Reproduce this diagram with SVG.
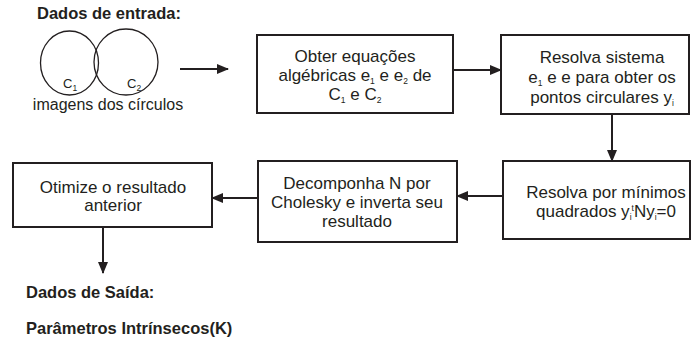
<svg xmlns="http://www.w3.org/2000/svg" width="691" height="345" viewBox="0 0 691 345">
<style>
text{font-family:"Liberation Sans",Arial,sans-serif;fill:#231f20}
.t{font-size:17px;text-anchor:middle}
.h{font-size:16.5px;font-weight:bold}
.s{font-size:8.5px}
.box{fill:#fff;stroke:#231f20;stroke-width:2}
.c{fill:none;stroke:#231f20;stroke-width:1.3}
.ln{stroke:#231f20;stroke-width:2;fill:none}
</style>
<defs>
<marker id="ah" markerWidth="12" markerHeight="10" refX="11" refY="5" orient="auto" markerUnits="userSpaceOnUse">
<path d="M0,0 L12,5 L0,10 Z" fill="#231f20"/>
</marker>
</defs>
<g id="entrada">
<text class="h" x="37" y="19">Dados de entrada:</text>
<ellipse class="c" cx="69.5" cy="63" rx="29" ry="32"/>
<ellipse class="c" cx="126" cy="62" rx="32" ry="33"/>
<text x="63" y="88" style="font-size:13px">C<tspan class="s" dy="3">1</tspan></text>
<text x="127" y="88" style="font-size:13px">C<tspan class="s" dy="3">2</tspan></text>
<text x="108" y="110" style="font-size:16px;text-anchor:middle">imagens dos círculos</text>
</g>
<g id="n1">
<rect class="box" x="257" y="35" width="196" height="78"/>
<text class="t" x="355" y="62">Obter equações</text>
<text class="t" x="355" y="81">algébricas e<tspan class="s" dy="3">1</tspan><tspan dy="-3"> e e</tspan><tspan class="s" dy="3">2</tspan><tspan dy="-3"> de</tspan></text>
<text class="t" x="355" y="100">C<tspan class="s" dy="3">1</tspan><tspan dy="-3"> e C</tspan><tspan class="s" dy="3">2</tspan></text>
</g>
<g id="n2">
<rect class="box" x="501" y="35" width="188" height="79"/>
<text class="t" x="602" y="63">Resolva sistema</text>
<text class="t" x="602" y="83">e<tspan class="s" dy="3">1</tspan><tspan dy="-3"> e e para obter os</tspan></text>
<text class="t" x="602" y="103">pontos circulares y<tspan class="s" dy="3">i</tspan></text>
</g>
<g id="n3">
<rect class="box" x="503" y="161" width="187" height="78"/>
<text class="t" x="606" y="198">Resolva por mínimos</text>
<text class="t" x="606" y="217">quadrados y<tspan class="s" dy="3">i</tspan><tspan class="s" dy="-9">t</tspan><tspan dy="6">Ny</tspan><tspan class="s" dy="3">i</tspan><tspan dy="-3">=0</tspan></text>
</g>
<g id="n4">
<rect class="box" x="258" y="161" width="199" height="81"/>
<text class="t" x="357" y="189">Decomponha N por</text>
<text class="t" x="357" y="208">Cholesky e inverta seu</text>
<text class="t" x="357" y="227">resultado</text>
</g>
<g id="n5">
<rect class="box" x="13" y="163" width="199" height="64"/>
<text class="t" x="113" y="193">Otimize o resultado</text>
<text class="t" x="113" y="211">anterior</text>
</g>
<g id="saida">
<text class="h" x="26" y="298">Dados de Saída:</text>
<text class="h" x="26" y="334">Parâmetros Intrínsecos(K)</text>
</g>
<g id="connectors">
<line class="ln" x1="180" y1="69" x2="228" y2="69" marker-end="url(#ah)"/>
<line class="ln" x1="453" y1="70" x2="501" y2="70" marker-end="url(#ah)"/>
<line class="ln" x1="612" y1="114" x2="612" y2="161" marker-end="url(#ah)"/>
<line class="ln" x1="503" y1="196" x2="457" y2="196" marker-end="url(#ah)"/>
<line class="ln" x1="258" y1="198" x2="212" y2="198" marker-end="url(#ah)"/>
<line class="ln" x1="103" y1="227" x2="103" y2="273" marker-end="url(#ah)"/>
</g>
</svg>
